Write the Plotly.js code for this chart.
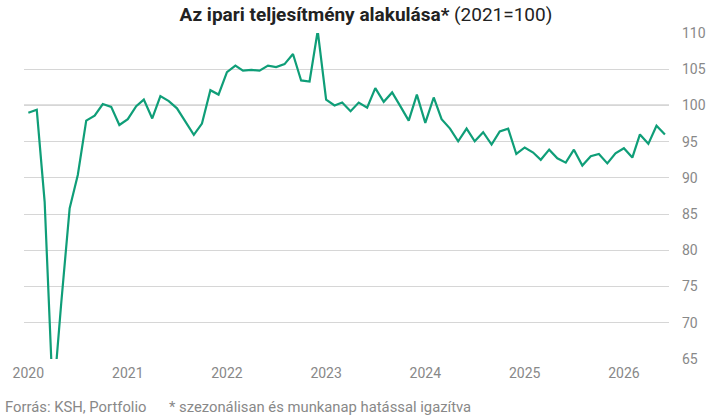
<!DOCTYPE html>
<html>
<head>
<meta charset="utf-8">
<script src="https://cdn.plot.ly/plotly-3.0.1.min.js"></script>
<style>html,body{margin:0;padding:0;background:#fff;}#chart{width:719px;height:416px;}</style>
</head>
<body>
<div id="chart"></div>
<script>
// Monthly index (2021 = 100), Jan 2020 .. Jun 2026
const startYear = 2020;
const values = [
  99.0, 99.4, 86.7, 59.0, 72.7, 85.8, 90.4, 97.9, 98.6, 100.2, 99.8, 97.3,   // 2020
  98.1, 99.9, 100.8, 98.2, 101.3, 100.6, 99.6, 97.8, 95.95, 97.5, 102.1, 101.5, // 2021
  104.6, 105.5, 104.8, 104.9, 104.8, 105.5, 105.3, 105.7, 107.1, 103.45, 103.3, 110.3, // 2022
  100.8, 100.0, 100.4, 99.2, 100.4, 99.7, 102.4, 100.5, 101.8, 99.9, 97.9, 101.5, // 2023
  97.6, 101.1, 98.1, 96.8, 95.05, 96.8, 95.05, 96.3, 94.6, 96.4, 96.8, 93.3, // 2024
  94.2, 93.5, 92.5, 93.9, 92.7, 92.1, 93.9, 91.7, 93.0, 93.3, 92.0, 93.4, // 2025
  94.1, 92.8, 96.0, 94.7, 97.2, 96.0 // 2026
];
const yearTicks = ['2020-01-01','2021-01-01','2022-01-01','2023-01-01','2024-01-01','2025-01-01','2026-01-01'];
const yearLabels = ['2020','2021','2022','2023','2024','2025','2026'];
const yTicks = [65, 70, 75, 80, 85, 90, 95, 100, 105, 110];

const months = values.map((v, i) => {
  const y = startYear + Math.floor(i / 12);
  const m = (i % 12) + 1;
  return y + '-' + (m < 10 ? '0' + m : m) + '-01';
});

const font = 'Roboto, "Open Sans", sans-serif';

Plotly.newPlot('chart', [{
  x: months,
  y: values,
  type: 'scatter',
  mode: 'lines',
  line: {color: '#0f9e78', width: 2.2},
  hoverinfo: 'x+y'
}], {
  width: 719, height: 416,
  margin: {l: 24, r: 50, t: 33, b: 57, pad: 0},
  paper_bgcolor: '#fff', plot_bgcolor: '#fff',
  showlegend: false,
  font: {family: font, size: 14, color: '#888'},
  title: {
    text: '<b>Az ipari teljesítmény alakulása*</b> (2021=100)',
    font: {family: font, size: 19, color: '#222'},
    x: 0.509, xanchor: 'center', xref: 'container',
    y: 0.966, yanchor: 'middle', yref: 'container'
  },
  xaxis: {
    type: 'date',
    range: ['2019-12-16', '2026-06-16'],
    tickvals: yearTicks,
    ticktext: yearLabels,
    showgrid: false, zeroline: false, showline: false,
    ticks: '',
    ticklabelstandoff: 4,
    tickfont: {family: font, size: 14, color: '#888'},
    fixedrange: true
  },
  yaxis: {
    side: 'right',
    range: [65, 110],
    tickvals: yTicks,
    showgrid: true, gridcolor: '#d6d6d6', gridwidth: 1,
    zeroline: false, showline: false,
    ticks: '',
    ticklabelstandoff: 12,
    tickfont: {family: font, size: 14, color: '#888'},
    fixedrange: true
  },
  shapes: [{
    type: 'line', xref: 'paper', yref: 'y',
    x0: 0, x1: 1, y0: 100, y1: 100,
    line: {color: '#808080', width: 1.2},
    layer: 'below'
  }],
  annotations: [
    {text: 'Forrás: KSH, Portfolio', xref: 'paper', yref: 'paper',
     x: -0.0326, y: -0.146, xanchor: 'left', yanchor: 'middle', showarrow: false,
     font: {family: font, size: 14.8, color: '#888'}},
    {text: '* szezonálisan és munkanap hatással igazítva', xref: 'paper', yref: 'paper',
     x: 0.2212, y: -0.146, xanchor: 'left', yanchor: 'middle', showarrow: false,
     font: {family: font, size: 14.8, color: '#888'}}
  ]
}, {displayModeBar: false, staticPlot: true});
</script>
</body>
</html>
